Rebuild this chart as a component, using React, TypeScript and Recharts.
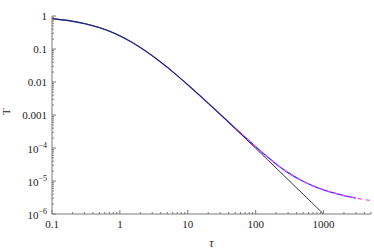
import { LineChart, Line, XAxis, YAxis } from "recharts"

// sample points along τ
const tau = [0.1, 0.15, 0.2, 0.3, 0.5, 0.7, 1, 1.5, 2, 3, 5, 7, 10, 15, 20, 30, 50, 70, 100, 150, 200, 300, 500, 700, 1000, 1500, 2000, 3000, 4000, 5000]

// black: pure power-law tail, hits the frame at τ = 1000
const tBlack = [0.826, 0.756, 0.694, 0.592, 0.444, 0.346, 0.25, 0.16, 0.111, 0.0625, 0.0278, 0.0156, 0.00826, 0.0039, 0.00227, 0.00104, 3.84e-4, 1.98e-4, 9.8e-5, 4.39e-5, 2.48e-5, 1.1e-5, 3.98e-6, 2.04e-6, 1.0e-6, null, null, null, null, null]

// blue: flattens out after τ ~ 100, stops near 3000
const tBlue = [0.826, 0.756, 0.694, 0.592, 0.444, 0.346, 0.25, 0.16, 0.111, 0.0625, 0.0278, 0.0156, 0.00826, 0.0039, 0.00227, 1.06e-3, 3.99e-4, 2.11e-4, 1.09e-4, 5.3e-5, 3.28e-5, 1.79e-5, 9.8e-6, 7.1e-6, 5.4e-6, 4.2e-6, 3.6e-6, 3.05e-6, null, null]

// magenta dashed: same tail, runs on to 5000
const tMagenta = [null, null, null, null, null, null, null, null, null, null, null, null, null, null, null, null, 3.99e-4, 2.11e-4, 1.09e-4, 5.3e-5, 3.28e-5, 1.79e-5, 9.8e-6, 7.1e-6, 5.4e-6, 4.2e-6, 3.6e-6, 3.05e-6, 2.75e-6, 2.55e-6]

const xMajor = [0.1, 1, 10, 100, 1000]
const yMajor = [1e-6, 1e-5, 1e-4, 0.001, 0.01, 0.1, 1]
const yMajorLabels = ["10^-6", "10^-5", "10^-4", "0.001", "0.01", "0.1", "1"]
const minorSteps = [2, 3, 4, 5, 6, 7, 8, 9]

const xTicks = [...xMajor, ...xMajor.flatMap((d) => minorSteps.map((m) => d * m)).filter((v) => v <= 5000)]
const yTicks = [...yMajor, ...yMajor.slice(0, -1).flatMap((d) => minorSteps.map((m) => d * m))]

const data = tau.map((t, i) => ({ tau: t, black: tBlack[i], blue: tBlue[i], magenta: tMagenta[i] }))

const FRAME = "#7a7a7a"
const FONT = "Liberation Serif, Times New Roman, serif"

const isMajor = (v: number) => Math.abs(Math.log10(v) - Math.round(Math.log10(v))) < 1e-6

function XTick(props: any) {
    const { x, y, payload, side } = props
    const v = payload.value
    const major = isMajor(v)
    const len = major ? 4 : 2
    const dir = side === "bottom" ? -1 : 1
    return (
        <g>
            <line x1={x} x2={x} y1={y} y2={y + dir * len} stroke={FRAME} strokeWidth={1} />
            {side === "bottom" && major && (
                <text x={x} y={y + 14} textAnchor="middle" fontSize={11} fontFamily={FONT} fill="#222">
                    {String(v)}
                </text>
            )}
        </g>
    )
}

function YTick(props: any) {
    const { x, y, payload, side } = props
    const v = payload.value
    const major = isMajor(v)
    const len = major ? 4 : 2
    const dir = side === "left" ? 1 : -1
    let label: any = null
    if (side === "left" && major) {
        const idx = yMajor.findIndex((m) => Math.abs(Math.log10(m) - Math.log10(v)) < 1e-6)
        const txt = yMajorLabels[idx]
        if (txt.includes("^")) {
            const [base, exp] = txt.split("^")
            label = (
                <text x={x - 5} y={y + 5} textAnchor="end" fontSize={11} fontFamily={FONT} fill="#222">
                    <tspan>{base}</tspan>
                    <tspan dy={-5} fontSize={8}>{exp.replace("-", "\u2212")}</tspan>
                </text>
            )
        } else {
            label = (
                <text x={x - 5} y={y + 4} textAnchor="end" fontSize={11} fontFamily={FONT} fill="#222">
                    {txt}
                </text>
            )
        }
    }
    return (
        <g>
            <line x1={x} x2={x + dir * len} y1={y} y2={y} stroke={FRAME} strokeWidth={1} />
            {label}
        </g>
    )
}

export default function App() {
    return (
        <div style={{ position: "absolute", left: 0, top: 0, background: "#fff" }}>
            <LineChart width={374} height={249} data={data} margin={{ top: 16, right: 3, left: 0, bottom: 0 }}>
                <XAxis
                    xAxisId="b"
                    dataKey="tau"
                    type="number"
                    scale="log"
                    domain={[0.1, 5000]}
                    allowDataOverflow
                    ticks={xTicks}
                    interval={0}
                    height={35}
                    tickSize={0}
                    tickMargin={0}
                    tickLine={false}
                    axisLine={{ stroke: FRAME }}
                    tick={(p: any) => <XTick {...p} side="bottom" />}
                    label={{ value: "τ", position: "insideBottom", offset: 2, fontStyle: "italic", fontSize: 12, fontFamily: FONT, fill: "#222" }}
                />
                <XAxis
                    xAxisId="t"
                    orientation="top"
                    dataKey="tau"
                    type="number"
                    scale="log"
                    domain={[0.1, 5000]}
                    allowDataOverflow
                    ticks={xTicks}
                    interval={0}
                    height={0}
                    tickSize={0}
                    tickMargin={0}
                    tickLine={false}
                    axisLine={{ stroke: FRAME }}
                    tick={(p: any) => <XTick {...p} side="top" />}
                />
                <YAxis
                    yAxisId="l"
                    type="number"
                    scale="log"
                    domain={[1e-6, 1]}
                    allowDataOverflow
                    ticks={yTicks}
                    interval={0}
                    width={52}
                    tickSize={0}
                    tickMargin={0}
                    tickLine={false}
                    axisLine={{ stroke: FRAME }}
                    tick={(p: any) => <YTick {...p} side="left" />}
                    label={{ value: "T", angle: -90, position: "insideLeft", offset: 6, fontSize: 11, fontFamily: FONT, fill: "#222" }}
                />
                <YAxis
                    yAxisId="r"
                    orientation="right"
                    type="number"
                    scale="log"
                    domain={[1e-6, 1]}
                    allowDataOverflow
                    ticks={yTicks}
                    interval={0}
                    width={0}
                    tickSize={0}
                    tickMargin={0}
                    tickLine={false}
                    axisLine={{ stroke: FRAME }}
                    tick={(p: any) => <YTick {...p} side="right" />}
                />
                <Line xAxisId="b" yAxisId="l" type="monotone" dataKey="blue" stroke="#3a3aff" strokeWidth={1.3} dot={false} isAnimationActive={false} />
                <Line xAxisId="b" yAxisId="l" type="monotone" dataKey="magenta" stroke="#ff40ff" strokeWidth={1.2} strokeDasharray="4 4" dot={false} isAnimationActive={false} />
                <Line xAxisId="b" yAxisId="l" type="monotone" dataKey="black" stroke="#222" strokeWidth={0.9} dot={false} isAnimationActive={false} />
            </LineChart>
        </div>
    )
}
